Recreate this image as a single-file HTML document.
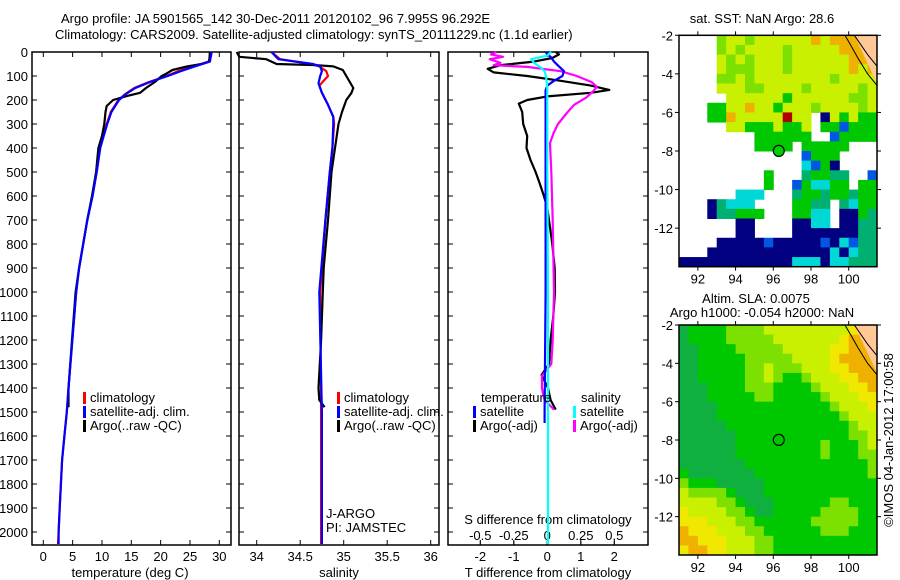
<!DOCTYPE html>
<html><head><meta charset="utf-8">
<style>
html,body{margin:0;padding:0;background:#fff;}
svg{display:block;font-family:"Liberation Sans",sans-serif;}
text{font-size:13px;fill:#000;}
</style></head>
<body>
<svg id="c" width="900" height="580" viewBox="0 0 900 580">
<text x="61" y="23">Argo profile: JA 5901565_142 30-Dec-2011 20120102_96 7.995S 96.292E</text>
<text x="55" y="39">Climatology: CARS2009. Satellite-adjusted climatology: synTS_20111229.nc (1.1d earlier)</text>
<text x="762" y="23" text-anchor="middle">sat. SST: NaN Argo: 28.6</text>
<text x="756" y="303" text-anchor="middle">Altim. SLA: 0.0075</text>
<text x="762" y="317" text-anchor="middle">Argo h1000: -0.054 h2000: NaN</text>
<text transform="translate(893,440) rotate(-90)" text-anchor="middle">©IMOS 04-Jan-2012 17:00:58</text>
</svg>
<script>
// ---------- data ----------
const depthTicks=[0,100,200,300,400,500,600,700,800,900,1000,1100,1200,1300,1400,1500,1600,1700,1800,1900,2000];
const tempTicks=[0,5,10,15,20,25,30];
const salTicks=[34,34.5,35,35.5,36];
const tdiffTicks=[-2,-1,0,1,2];
const sdiffTicks=[-0.5,-0.25,0,0.25,0.5];
const lonTicks=[92,94,96,98,100];
const latTicks=[-2,-4,-6,-8,-10,-12];

const tClimDepth=[0,40,60,80,100,125,150,175,200,250,300,400,500,600,700,800,900,1000,1400,1500,1600,1700,1800,1900,2000,2050];
const tClim=[28.6,28.2,25.5,23,21,18,15.5,14,12.8,11.5,10.8,9.7,9.1,8.35,7.5,6.8,6.1,5.6,4.3,4.0,3.6,3.2,3.0,2.8,2.6,2.5];
const tSatDepth=[0,40,60,80,100,125,150,175,200,250,300,400,500,600,700,800,900,1000,1400,1500,1600,1700,1800,1900,2000,2050];
const tSat=[28.7,28.4,25.8,23.4,21.2,18.2,15.7,14.1,12.9,11.6,10.9,9.7,9.1,8.4,7.5,6.8,6.1,5.6,4.3,4.0,3.6,3.2,3.0,2.8,2.6,2.6];
const tArgoDepth=[0,40,50,60,75,90,100,125,150,170,185,200,225,250,300,350,400,500,600,700,800,900,1000,1200,1400,1480];
const tArgo=[28.4,28.3,27,24.5,22,21,20.2,19,17.5,16.5,14,11.9,10.8,10.6,10.4,10.0,9.4,9.0,8.3,7.5,6.8,6.1,5.5,4.9,4.3,4.3];

const sClimDepth=[0,30,50,60,80,100,140,170,220,270,300,400,500,700,1000,1500,2000,2050];
const sClim=[34.17,34.27,34.62,34.72,34.8,34.82,34.72,34.75,34.82,34.88,34.89,34.87,34.84,34.79,34.73,34.74,34.74,34.74];
const sSatDepth=[0,30,50,60,80,100,130,170,220,270,300,400,500,700,1000,1500,2000,2050];
const sSat=[34.17,34.25,34.65,34.73,34.75,34.73,34.71,34.75,34.82,34.88,34.88,34.87,34.84,34.79,34.72,34.75,34.75,34.75];
const sArgoDepth=[0,20,30,50,55,60,75,100,125,150,170,200,250,300,400,500,700,900,1000,1200,1400,1450,1480];
const sArgo=[33.77,33.8,34.11,34.23,34.69,34.88,34.99,35.03,35.07,35.11,35.09,35.03,34.98,34.94,34.9,34.86,34.82,34.77,34.76,34.74,34.71,34.72,34.78];

const dTArgoDepth=[0,10,25,40,55,70,85,100,120,140,158,170,185,200,215,250,300,350,400,450,500,550,600,650,700,800,900,1000,1100,1200,1300,1346,1400,1450,1490];
const dTArgo=[0.25,0.35,0.15,-0.4,-1.4,-1.78,-1.6,-0.6,0.4,1.3,1.85,1.3,0,-0.6,-0.85,-0.75,-0.72,-0.6,-0.62,-0.5,-0.35,-0.22,-0.1,0,0.05,0.15,0.22,0.23,0.18,0.1,0.05,-0.17,0.02,0.1,0.25];
const dTSatDepth=[0,10,20,40,60,80,100,120,140,160,200,500,1000,1500,1546];
const dTSat=[-0.05,0,0.1,0.2,0.35,0.5,0.45,0.2,0,-0.05,-0.05,-0.05,-0.05,-0.08,-0.08];
const dSArgoDepth=[0,10,20,30,45,55,62,80,100,125,145,165,190,220,255,300,340,380,500,700,1000,1200,1300,1350,1400,1450,1490];
const dSArgo=[-0.38,-0.42,-0.33,-0.43,-0.35,-0.4,-0.15,0.1,0.22,0.33,0.37,0.34,0.29,0.2,0.145,0.08,0.045,0.02,0.03,0.04,0.05,0.04,0.03,-0.04,-0.04,-0.02,0.05];
const dSSatDepth=[0,15,30,45,60,80,100,150,500,1000,2050];
const dSSat=[0.03,0,-0.12,-0.1,-0.06,-0.02,-0.01,0,0,0.005,0.005];

// SST map grid: 0.5deg cells, lon 91..101.5 (21 cols), lat -2..-14 (24 rows)
const sstRows=[
"....LYYLYYYYYYOYOOOOP",
"....LYLYYYYLYYYYYOOOO",
"....YLYLYYYLYYYYYYOOO",
"....YLLLYYYLYYYYYYOYO",
"....LLYLYYYYYYYYLYYYY",
"....YYYLLYYYYLYYYYYLY",
".....YYYYYYGYYYYYYLLY",
"...GGYYOYYGYYYLYYYYLY",
"...GGOYYYYYRYY.NYGYGG",
".....YYGGGYGGY.GGBGGG",
"........GGGGGG..BGGGG",
"........GGGG.GGGGG...",
".............BGGG....",
".............CBGN....",
".........G...gGGgg..B",
".........G..BGCCGG.GG",
"......CCC...gGGgGGgGG",
"...NgCCC....GGgg.gCGG",
"...NggGGG...GGCC.NNGg",
"......NN....NNCC.NNgg",
"......NN....NNNNNNNgg",
"....NNNNNBNNNNNBNCBgg",
"...NNNNNNNNNNNNNCNCgg",
"NNNNNNNNNNNNCCCNCCggg"];
// SLA map grid
const slaRows=[
"AGGGGLLLLYYYYYYYYYyPP",
"AGGGGLLLLLYYYYYYYyOOP",
"AAGGGGLLLLLYYYYYyyOOO",
"AAGGGGGLLLLLYYYYyOOOO",
"AAGGGGGLLYLLLYYYyyOOO",
"AAGGGGGLLYLGGLYYYyyOO",
"AAAGGGGLLLGGGGLYYYyyO",
"AAAGGGGGLLGGGGGLYYYyy",
"AAAAGGGGGGGGGGGGLYYYy",
"AAAAGGGGGGGGGGGGGLYYY",
"AAAAAGGGGGGGGGGGGGLYY",
"AAAAAAGGGGGGGGGGGGLLY",
"AAAAAAGGGGGGGGGLGGGLY",
"AAAAAAGGGGGGGGGLGGGLL",
"AAAAAAAGGGGGGGGGGGGGL",
"GAAAAAAAGGGGGGGGGGGGL",
"LGGGAAAAAGGGGGGGGGGGG",
"YLLLLGAAAGGGGGGGGGGGG",
"YYYYLLGAAAGGGGGGLLGGG",
"yYYYYLLGAAGGGGGLLLLGG",
"yyyYYYLLGGGGGGLLLLLGG",
"OyyyYYYLLGGGGGGLLLGGG",
"OOyyyYYYLLGGGGGGGGGGG",
"yOOyyYYYLLGGGGGGGGGGG"];
const argoLon=96.292, argoLat=-7.995;

// ---------- drawing ----------
const NS='http://www.w3.org/2000/svg';
const svg=document.getElementById('c');
function mk(tag,attrs,parent){const e=document.createElementNS(NS,tag);for(const k in attrs)e.setAttribute(k,attrs[k]);(parent||svg).appendChild(e);return e;}
const yTop=52,yBot=545;
const yD=d=>yTop+d*0.24;
function lin(d0,d1,p0,p1){return v=>p0+(v-d0)*(p1-p0)/(d1-d0);}
const panels=[
 {x0:32,x1:231,sx:lin(0,30,43.3,219.3),ticks:tempTicks,name:'temperature-panel'},
 {x0:239,x1:439,sx:lin(34,36,256.7,430.7),ticks:salTicks,name:'salinity-panel'},
 {x0:448,x1:648,sx:lin(-2,2,480.3,614.3),ticks:tdiffTicks,name:'difference-panel'}];
const sS=lin(-0.5,0.5,480.3,614.3);

panels.forEach((p,i)=>{
  const g=mk('g',{});
  
  
  const r=mk('rect',{x:p.x0,y:yTop,width:p.x1-p.x0,height:yBot-yTop,fill:'none',stroke:'#000','stroke-width':1.5},g);
  
  
  depthTicks.forEach(d=>{
    mk('line',{x1:p.x0,x2:p.x0+5,y1:yD(d),y2:yD(d),stroke:'#000'},g);
    mk('line',{x1:p.x1-5,x2:p.x1,y1:yD(d),y2:yD(d),stroke:'#000'},g);
  });
  p.ticks.forEach(v=>{
    const x=p.sx(v);
    mk('line',{x1:x,x2:x,y1:yTop,y2:yTop+5,stroke:'#000'},g);
    mk('line',{x1:x,x2:x,y1:yBot-5,y2:yBot,stroke:'#000'},g);
    const t=mk('text',{x:x,y:561,'text-anchor':'middle'},g);
    t.textContent=String(v);
    
    
  });
  if(i===0){
    depthTicks.forEach(d=>{
      const t=mk('text',{x:28,y:yD(d)+5,'text-anchor':'end'},g);
      t.textContent=d;
      
      
    });
  }
});
function axTitle(x,y,s,name){const t=mk('text',{x:x,y:y,'text-anchor':'middle'});t.textContent=s;
  
  }
axTitle(130,577,'temperature (deg C)','x-axis-title-temperature');
axTitle(339,577,'salinity','x-axis-title-salinity');
axTitle(548,577,'T difference from climatology','x-axis-title-tdiff');
axTitle(548,524,'S difference from climatology','s-axis-title');
sdiffTicks.forEach(v=>{
  const x=sS(v);
  const t=mk('text',{x:x,y:540,'text-anchor':'middle'});
  t.textContent=String(v);
  
  
  mk('line',{x1:x,x2:x,y1:541,y2:545,stroke:'#000'});
});

function series(depths,vals,sx,color,name){
  const pts=depths.map((d,i)=>sx(vals[i]).toFixed(1)+','+yD(d).toFixed(1)).join(' ');
  const pl=mk('polyline',{points:pts,fill:'none',stroke:color,'stroke-width':2.2,'stroke-linejoin':'round'});
  
  
}
series(tClimDepth,tClim,panels[0].sx,'#f00','temp-climatology-line');
series(tArgoDepth,tArgo,panels[0].sx,'#000','temp-argo-line');
series(tSatDepth,tSat,panels[0].sx,'#00f','temp-satellite-line');
series(sClimDepth,sClim,panels[1].sx,'#f00','sal-climatology-line');
series(sArgoDepth,sArgo,panels[1].sx,'#000','sal-argo-line');
series(sSatDepth,sSat,panels[1].sx,'#00f','sal-satellite-line');
series(dTArgoDepth,dTArgo,panels[2].sx,'#000','tdiff-argo-line');
series(dSArgoDepth,dSArgo,sS,'#f0f','sdiff-argo-line');
series(dTSatDepth,dTSat,panels[2].sx,'#00f','tdiff-satellite-line');
series(dSSatDepth,dSSat,sS,'#0ff','sdiff-satellite-line');

function legend(x,y,color,label){
  const g=mk('g',{});
  
  
  mk('rect',{x:x,y:y-10,width:3,height:12,fill:color},g);
  const t=mk('text',{x:x+7,y:y},g);t.textContent=label;
}
legend(83,402,'#f00','climatology');legend(83,416,'#00f','satellite-adj. clim.');legend(83,430,'#000','Argo(..raw -QC)');
legend(337,402,'#f00','climatology');legend(337,416,'#00f','satellite-adj. clim.');legend(337,430,'#000','Argo(..raw -QC)');
legend(473,416,'#00f','satellite');legend(473,430,'#000','Argo(-adj)');
legend(573,416,'#0ff','satellite');legend(573,430,'#f0f','Argo(-adj)');
[['temperature',481],['salinity',581]].forEach(a=>{const t=mk('text',{x:a[1],y:402});t.textContent=a[0];
  
  });
[['J-ARGO',518],['PI: JAMSTEC',532]].forEach(a=>{const t=mk('text',{x:326,y:a[1]});t.textContent=a[0];
  
  });

// maps
const pal={Y:'#c8f000',L:'#7ce000',G:'#00c800',g:'#00b070',C:'#00d8d8',B:'#0058e0',N:'#000080',O:'#f0b000',R:'#b00000',y:'#f0e800',A:'#10b040',P:'#ffc896'};
function drawMap(rows,y0,y1,name,filledMarker){
  const x0=679,x1=877;
  const sx=lin(91,101.5,x0,x1), sy=lin(-2,-14,y0,y1);
  const g=mk('g',{});
  
  
  rows.forEach((row,r)=>{
    for(let c=0;c<row.length;c++){
      const ch=row[c]; if(ch==='.')continue;
      const lon=91+c*0.5, lat=-2-r*0.5;
      const cell=mk('rect',{x:sx(lon).toFixed(2),y:sy(lat).toFixed(2),width:(sx(lon+0.5)-sx(lon)+0.5).toFixed(2),height:(sy(lat-0.5)-sy(lat)+0.5).toFixed(2),fill:pal[ch]},g);
      
      
    }
  });
  mk('polygon',{points:`${sx(100.3)},${y0} ${x1},${y0} ${x1},${sy(-4.5)}`,fill:'#ffc896'},g);
  mk('polyline',{points:`${sx(99.8)},${y0} ${sx(100.1)},${sy(-2.5)} ${sx(100.5)},${sy(-3.2)} ${sx(101)},${sy(-4)} ${x1},${sy(-4.6)}`,fill:'none',stroke:'#000','stroke-width':1},g);
  mk('polyline',{points:`${sx(100.3)},${y0} ${sx(101)},${sy(-3)} ${x1},${sy(-3.6)}`,fill:'none',stroke:'#000','stroke-width':1},g);
  const m=mk('circle',{cx:sx(argoLon),cy:sy(argoLat),r:5.5,fill:filledMarker?'#00d000':'none',stroke:'#000','stroke-width':1.2},g);
  
  
  mk('rect',{x:x0,y:y0,width:x1-x0,height:y1-y0,fill:'none',stroke:'#000','stroke-width':1.5},g);
  lonTicks.forEach(v=>{const x=sx(v);
    mk('line',{x1:x,x2:x,y1:y0-4,y2:y0,stroke:'#000'},g);
    mk('line',{x1:x,x2:x,y1:y1,y2:y1+4,stroke:'#000'},g);
    const t=mk('text',{x:x,y:y1+17,'text-anchor':'middle'},g);t.textContent=v;
    
    });
  latTicks.forEach(v=>{const y=sy(v);
    mk('line',{x1:x0-4,x2:x0,y1:y,y2:y,stroke:'#000'},g);
    mk('line',{x1:x1,x2:x1+4,y1:y,y2:y,stroke:'#000'},g);
    const t=mk('text',{x:x0-6,y:y+5,'text-anchor':'end'},g);t.textContent='-'+Math.abs(v);
    
    });
}
drawMap(sstRows,35.3,266.7,'sst-map',true);
drawMap(slaRows,325,555,'sla-map',false);
</script>
</body></html>
